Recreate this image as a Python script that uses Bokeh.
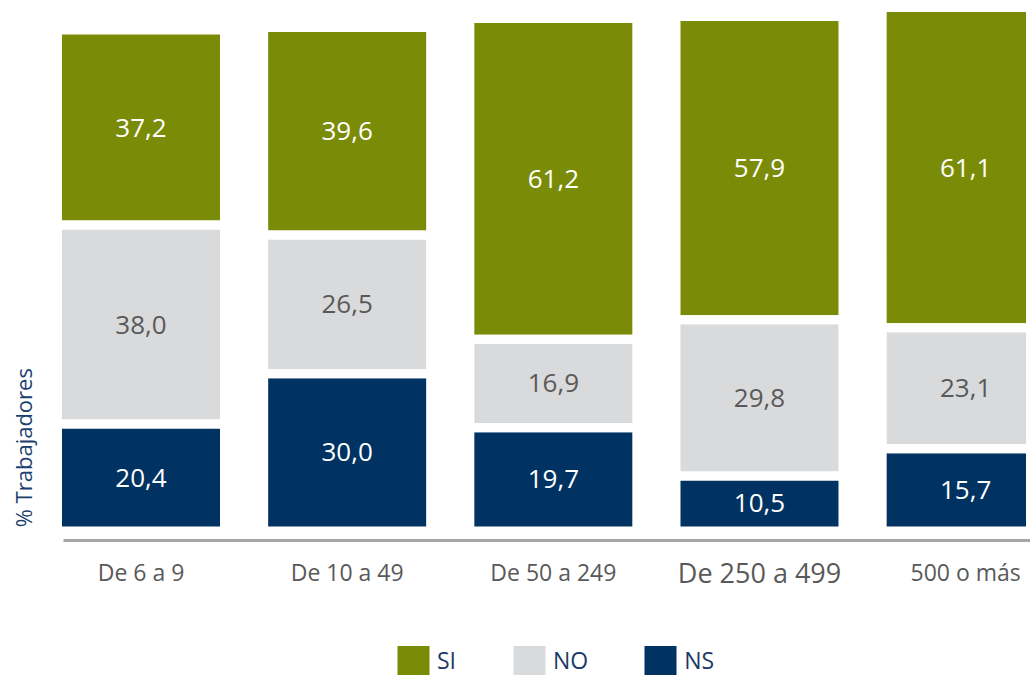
import numpy as np
from bokeh.plotting import figure
from bokeh.models import ColumnDataSource, Range1d, FixedTicker, Legend, LegendItem, Label
from bokeh.core.properties import value
from bokeh.embed import file_html
from bokeh.resources import INLINE

# ---- data ----
categories = ["De 6 a 9", "De 10 a 49", "De 50 a 249", "De 250 a 499", "500 o más"]
si = [37.2, 39.6, 61.2, 57.9, 61.1]
no = [38.0, 26.5, 16.9, 29.8, 23.1]
ns = [20.4, 30.0, 19.7, 10.5, 15.7]
stack_names = ["NS", "NO", "SI"]          # bottom -> top
legend_order = ["SI", "NO", "NS"]
y_title = "% Trabajadores"

# ---- styles ----
fill_colors = {"SI": "#7a8c07", "NO": "#d9dadb", "NS": "#003362"}
text_colors = {"SI": "white", "NO": "#595959", "NS": "white"}
cat_label_sizes = ["23px", "23px", "23px", "27px", "23px"]
base_label_size = "23px"
FONT = "Open Sans"

xs = list(range(len(categories)))
series = {"NS": ns, "NO": no, "SI": si}
src = ColumnDataSource(dict(x=xs, **series))

p = figure(width=1030, height=679,
           x_range=Range1d(-0.6815, 4.3145), y_range=Range1d(-28.34, 101.24),
           output_backend="svg", toolbar_location=None, y_axis_location=None,
           min_border_left=0, min_border_right=0, min_border_top=0, min_border_bottom=0)
p.outline_line_color = None
p.grid.visible = False
p.background_fill_color = "white"
p.border_fill_color = "white"

fills = p.vbar_stack(stack_names, x="x", width=0.81, source=src,
                     fill_color=[fill_colors[s] for s in stack_names], line_color=None)
p.vbar_stack(stack_names, x="x", width=0.81, source=src,
             fill_color=None, line_color="white", line_width=9)

# value labels at segment centres
tx, ty, tt, tc = [], [], [], []
for i in xs:
    base = 0.0
    for s in stack_names:
        v = series[s][i]
        tx.append(i)
        ty.append(base + v / 2)
        tt.append(f"{v:.1f}".replace(".", ","))
        tc.append(text_colors[s])
        base += v
p.text(x=tx, y=ty, text=tt, text_color=tc, text_align="center", text_baseline="middle",
       text_font=value(FONT), text_font_size="26px")

# x axis, placed just under the bars inside the frame
ax = p.xaxis[0]
ax.fixed_location = -1.72
ax.ticker = FixedTicker(ticks=xs)
ax.major_label_overrides = {i: (c if cat_label_sizes[i] == base_label_size else "")
                            for i, c in enumerate(categories)}
ax.axis_line_color = "#a6a6a6"
ax.axis_line_width = 3
ax.bounds = (-0.376, 4.4)
ax.major_tick_line_color = None
ax.minor_tick_line_color = None
ax.major_tick_out = 0
ax.major_tick_in = 0
ax.major_label_standoff = 16
ax.major_label_text_color = "#595959"
ax.major_label_text_font = FONT
ax.major_label_text_font_size = base_label_size

for i, c in enumerate(categories):
    if cat_label_sizes[i] != base_label_size:
        p.add_layout(Label(x=i, y=-7.9, text=c, text_align="center", text_baseline="middle",
                           text_font=FONT, text_font_size=cat_label_sizes[i],
                           text_color="#595959"))

# y title
p.add_layout(Label(x=-0.572, y=15.9, text=y_title, angle=np.pi / 2,
                   text_align="center", text_baseline="middle",
                   text_font=FONT, text_font_size="22px", text_color="#1b3f6e"))

# legend
legend = Legend(items=[LegendItem(label=s, renderers=[fills[stack_names.index(s)]]) for s in legend_order],
                orientation="horizontal", location=(393, 1), padding=0, margin=0, spacing=52,
                glyph_width=40, glyph_height=36, label_standoff=4,
                label_text_font=FONT, label_text_font_size="23px", label_text_color="#1c3a66",
                border_line_color=None, background_fill_alpha=0)
p.add_layout(legend)

open("out.html", "w").write(file_html(p, INLINE))
